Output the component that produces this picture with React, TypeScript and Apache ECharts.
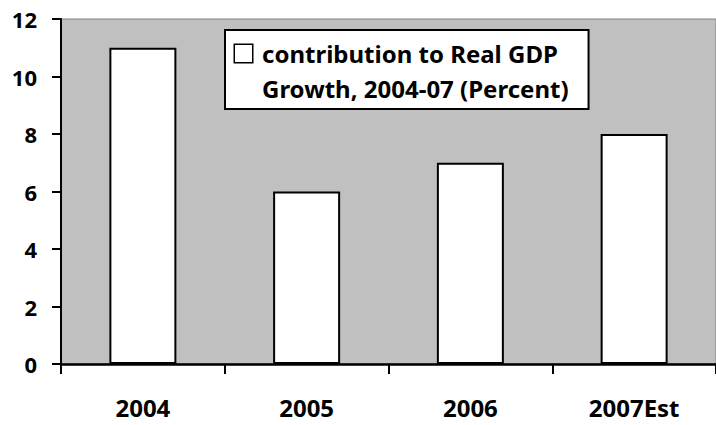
import React, { useEffect, useRef } from "react";
import * as echarts from "echarts";

const categories = ["2004", "2005", "2006", "2007Est"];
const values = [11, 6, 7, 8];
const seriesName = "contribution to Real GDP Growth, 2004-07 (Percent)";
const legendLine1 = "contribution to Real GDP";
const legendLine2 = "Growth, 2004-07 (Percent)";
const yMin = 0;
const yMax = 12;
const yInterval = 2;

const FONT = "'Noto Sans', 'Liberation Sans', sans-serif";

export default function App() {
  const ref = useRef<HTMLDivElement>(null);
  useEffect(() => {
    if (!ref.current) return;
    const chart = echarts.init(ref.current, null, { renderer: "svg" });
    chart.setOption({
      animation: false,
      backgroundColor: "#ffffff",
      textStyle: { fontFamily: FONT },
      grid: {
        left: 61,
        top: 19,
        width: 660,
        height: 345,
        containLabel: false,
        show: true,
        backgroundColor: "#C0C0C0",
        borderColor: "#808080",
        borderWidth: 1,
      },
      legend: {
        show: true,
        left: 225,
        top: 30,
        orient: "vertical",
        icon: "none",
        itemWidth: 0,
        itemHeight: 0,
        padding: [6, 20, 3, 5],
        backgroundColor: "#ffffff",
        borderColor: "#000000",
        borderWidth: 2,
        borderRadius: 0,
        selectedMode: false,
        formatter: () =>
          `{sym|}{sp|}{t|${legendLine1}}\n{gap|}{t|${legendLine2}}`,
        textStyle: {
          fontFamily: FONT,
          fontWeight: "bold",
          fontSize: 24,
          color: "#000",
          lineHeight: 35,
          rich: {
            sym: {
              width: 17,
              height: 17,
              backgroundColor: "#ffffff",
              borderColor: "#000000",
              borderWidth: 1.5,
              verticalAlign: "middle",
              lineHeight: 35,
            },
            sp: { width: 10, lineHeight: 35 },
            gap: { width: 27, lineHeight: 35 },
            t: {
              fontFamily: FONT,
              fontWeight: "bold",
              fontSize: 24,
              color: "#000",
              lineHeight: 35,
            },
          },
        },
        data: [seriesName],
      },
      xAxis: {
        type: "category",
        data: categories,
        boundaryGap: true,
        axisLine: { show: true, lineStyle: { color: "#000", width: 2.5 } },
        axisTick: {
          show: true,
          alignWithLabel: false,
          length: 10,
          lineStyle: { color: "#000", width: 2 },
        },
        axisLabel: {
          margin: 31,
          fontFamily: FONT,
          fontWeight: "bold",
          fontSize: 24,
          color: "#000",
        },
        splitLine: { show: false },
      },
      yAxis: {
        type: "value",
        min: yMin,
        max: yMax,
        interval: yInterval,
        axisLine: { show: true, lineStyle: { color: "#000", width: 2 } },
        axisTick: {
          show: true,
          length: 9,
          lineStyle: { color: "#000", width: 2 },
        },
        axisLabel: {
          margin: 24,
          fontFamily: FONT,
          fontWeight: "bold",
          fontSize: 22,
          color: "#000",
        },
        splitLine: { show: false },
      },
      series: [
        {
          name: seriesName,
          type: "bar",
          data: values,
          barWidth: 67,
          itemStyle: {
            color: "#ffffff",
            borderColor: "#000000",
            borderWidth: 2,
          },
        },
      ],
    });
    return () => chart.dispose();
  }, []);
  return <div ref={ref} style={{ width: 716, height: 425, position: "absolute", left: 0, top: 0 }} />;
}
